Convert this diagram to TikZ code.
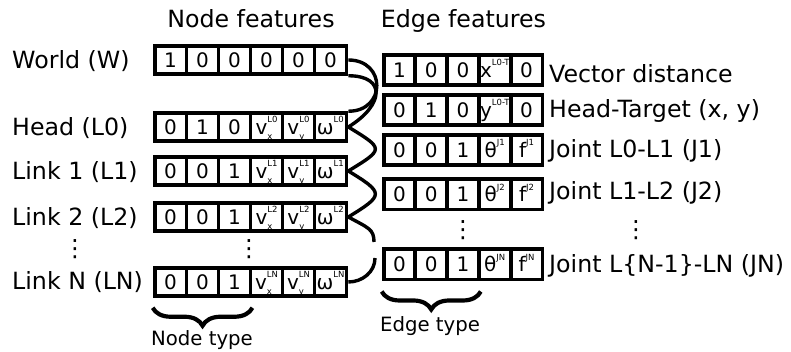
\documentclass[tikz,border=0pt]{standalone}
\usepackage{fontspec}
\setmainfont{DejaVu Sans}
\usetikzlibrary{decorations.pathreplacing}
\newcommand\ssz{\fontsize{8.5pt}{9pt}\selectfont}
\newcommand\supo[2]{#1\raisebox{11.5pt}{\ssz #2}}
\newcommand\supsb[3]{#1\rlap{\raisebox{-5pt}{\ssz #3}}\raisebox{11.5pt}{\ssz #2}}
\newcommand\bigf{\fontsize{23.7pt}{28pt}\selectfont}
\newcommand\cellf{\fontsize{20pt}{24pt}\selectfont}
\newcommand\typef{\fontsize{19.7pt}{23pt}\selectfont}
\begin{document}
\begin{tikzpicture}[x=1pt,y=1pt,
  ncell/.style={draw, line width=3.8pt, minimum width=31.97pt, minimum height=27.7pt,
    inner sep=0pt, text height=14.6pt, text depth=0pt, font=\cellf},
  ecell/.style={ncell, minimum width=31.76pt, minimum height=30.2pt},
  lbl/.style={inner sep=0pt, font=\bigf},
  tlbl/.style={inner sep=0pt, font=\typef},
  conn/.style={line width=3.4pt},
  brc/.style={line width=4.2pt, decorate, decoration={brace, mirror, amplitude=18pt}}]
\useasboundingbox (0,0) rectangle (791,352);

% titles
\node[lbl, anchor=base] (tn) at (251,324.5) {Node features};
\node[lbl, anchor=base] (te) at (463.5,324.5) {Edge features};

% node rows
\foreach \cont [count=\i] in {1,0,0,0,0,0}
  \node[ncell] (w\i) at ({154.6+(\i-0.5)*31.97}, 292) {\cont};
\foreach \cont [count=\i] in {0,1,0,{\supsb{v}{L0}{x}},{\supsb{v}{L0}{y}},{\supo{ω}{L0}}}
  \node[ncell] (h\i) at ({154.6+(\i-0.5)*31.97}, 225) {\cont};
\foreach \cont [count=\i] in {0,0,1,{\supsb{v}{L1}{x}},{\supsb{v}{L1}{y}},{\supo{ω}{L1}}}
  \node[ncell] (la\i) at ({154.6+(\i-0.5)*31.97}, 181) {\cont};
\foreach \cont [count=\i] in {0,0,1,{\supsb{v}{L2}{x}},{\supsb{v}{L2}{y}},{\supo{ω}{L2}}}
  \node[ncell] (lb\i) at ({154.6+(\i-0.5)*31.97}, 135) {\cont};
\foreach \cont [count=\i] in {0,0,1,{\supsb{v}{LN}{x}},{\supsb{v}{LN}{y}},{\supo{ω}{LN}}}
  \node[ncell] (ln\i) at ({154.6+(\i-0.5)*31.97}, 70) {\cont};

% node labels
\node[lbl, anchor=base west] (lw) at (12,283.4) {World (W)};
\node[lbl, anchor=base west] (lh) at (12,216.4) {Head (L0)};
\node[lbl, anchor=base west] (l1) at (12,172.4) {Link 1 (L1)};
\node[lbl, anchor=base west] (l2) at (12,126.8) {Link 2 (L2)};
\node[lbl, anchor=base west] (lN) at (12,62.5) {Link N (LN)};
\node[lbl] (dl) at (75,103) {⋮};
\node[lbl] (dn) at (249,103) {⋮};

% edge rows
\foreach \cont [count=\i] in {1,0,0,{\supo{x}{L0-T}},0}
  \node[ecell] (ea\i) at ({383.6+(\i-0.5)*31.76}, 282) {\cont};
\foreach \cont [count=\i] in {0,1,0,{\supo{y}{L0-T}},0}
  \node[ecell] (eb\i) at ({383.6+(\i-0.5)*31.76}, 242) {\cont};
\foreach \cont [count=\i] in {0,0,1,{\supo{θ}{J1}},{\supo{f}{J1}}}
  \node[ecell] (ec\i) at ({383.6+(\i-0.5)*31.76}, 202) {\cont};
\foreach \cont [count=\i] in {0,0,1,{\supo{θ}{J2}},{\supo{f}{J2}}}
  \node[ecell] (ed\i) at ({383.6+(\i-0.5)*31.76}, 157.5) {\cont};
\foreach \cont [count=\i] in {0,0,1,{\supo{θ}{JN}},{\supo{f}{JN}}}
  \node[ecell] (ee\i) at ({383.6+(\i-0.5)*31.76}, 87.5) {\cont};

% edge labels
\node[lbl, anchor=base west] (ev) at (549,269) {Vector distance};
\node[lbl, anchor=base west] (eh) at (549,234) {Head-Target (x, y)};
\node[lbl, anchor=base west] (ej1) at (549,194) {Joint L0-L1 (J1)};
\node[lbl, anchor=base west] (ej2) at (549,152) {Joint L1-L2 (J2)};
\node[lbl, anchor=base west] (ejn) at (549,79) {Joint L\{N-1\}-LN (JN)};
\node[lbl] (de) at (463,122) {⋮};
\node[lbl] (dj) at (636,122) {⋮};

% connectors
\coordinate (e1) at (374,110);
\coordinate (e2) at (375,94);
\draw[conn] (w6.east) .. controls +(38,0) and +(38,0) .. (h6.north east);
\draw[conn] (w6.south east) .. controls +(38,0) and +(36,22) .. (h6.east);
\draw[conn] (h6.east) .. controls +(36,-22) and +(36,22) .. (la6.east);
\draw[conn] (la6.east) .. controls +(36,-22) and +(36,22) .. (lb6.east);
\draw[conn] (lb6.east) .. controls +(20,-11) and +(0,13) .. (e1);
\draw[conn] (e2) .. controls +(0,-14) and +(14,0) .. (ln6.east);

% braces
\draw[brc] ([yshift=-10pt]ln1.south west) -- ([yshift=-10pt]ln3.south east);
\draw[brc] ([yshift=-10pt]ee1.south west) -- ([yshift=-10pt]ee3.south east);
\node[tlbl, anchor=base] (nt) at (202,6) {Node type};
\node[tlbl, anchor=base] (et) at (430,20) {Edge type};
\end{tikzpicture}
\end{document}
